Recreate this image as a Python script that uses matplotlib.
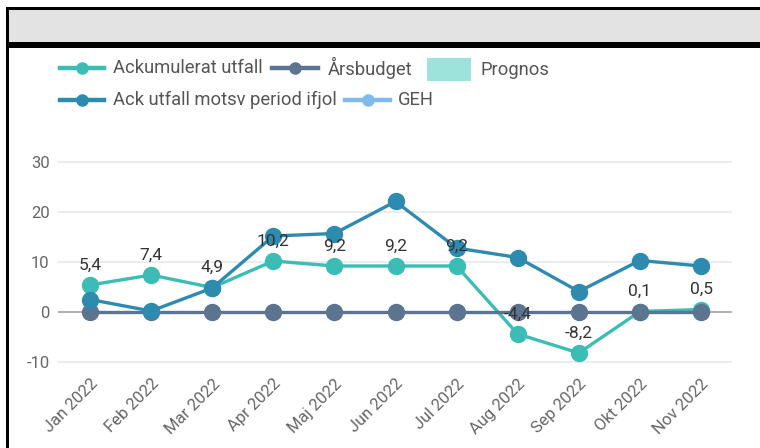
import matplotlib.pyplot as plt
from matplotlib.lines import Line2D
from matplotlib.patches import Rectangle

plt.rcParams['font.family'] = ['Roboto', 'DejaVu Sans']

# data
months = ['Jan 2022', 'Feb 2022', 'Mar 2022', 'Apr 2022', 'Maj 2022', 'Jun 2022',
          'Jul 2022', 'Aug 2022', 'Sep 2022', 'Okt 2022', 'Nov 2022']
ack_utfall = [5.4, 7.4, 4.9, 10.2, 9.2, 9.2, 9.2, -4.4, -8.2, 0.1, 0.5]
ack_ifjol = [2.5, 0.2, 4.8, 15.2, 15.7, 22.1, 12.8, 10.9, 4.1, 10.3, 9.2]
arsbudget = [0, 0, 0, 0, 0, 0, 0, 0, 0, 0, 0]
y_ticks = [-10, 0, 10, 20, 30]

c_ack = '#3bbdb5'
c_budget = '#5b7590'
c_ifjol = '#2e8bb0'
c_geh = '#7fbbea'
c_prognos = '#9de3dc'

W, H = 760, 448
fig = plt.figure(figsize=(W / 100, H / 100), dpi=100)

def fx(px):
    return px / W

def fy(py):
    return 1 - py / H

# frame / header
fig.patches.append(Rectangle((fx(6), fy(48)), 1, 38 / H, transform=fig.transFigure,
                             facecolor='#e3e3e3', edgecolor='none', zorder=0))
fig.patches.append(Rectangle((fx(6), fy(10)), 1, 2.5 / H, transform=fig.transFigure,
                             facecolor='black', edgecolor='none', zorder=1))
fig.patches.append(Rectangle((fx(6), fy(48)), 1, 6 / H, transform=fig.transFigure,
                             facecolor='black', edgecolor='none', zorder=1))
fig.patches.append(Rectangle((fx(6), 0), 2.5 / W, fy(8), transform=fig.transFigure,
                             facecolor='black', edgecolor='none', zorder=1))

# axes
ax = fig.add_axes([fx(58), fy(372), 674 / W, 222 / H])
x = list(range(len(months)))
ax.set_xlim(-0.524, 10.507)
ax.set_ylim(-12.0, 32.4)
ax.set_yticks(y_ticks)
ax.set_yticklabels([str(v) for v in y_ticks])
for v in y_ticks:
    if v == 0:
        ax.axhline(v, color='#a8a8a8', lw=1.3, zorder=1)
    else:
        ax.axhline(v, color='#e8ebef', lw=1.3, zorder=1)
for s in ax.spines.values():
    s.set_visible(False)
ax.tick_params(axis='both', length=0, labelsize=12, labelcolor='#666666')
ax.tick_params(axis='y', pad=6)
ax.tick_params(axis='x', pad=3)
ax.set_xticks(x)
ax.set_xticklabels(months, rotation=45, ha='right', rotation_mode='anchor')

ax.plot(x, ack_utfall, color=c_ack, lw=2.4, marker='o', ms=11.5, zorder=3)
ax.plot(x, arsbudget, color=c_budget, lw=2.4, marker='o', ms=11.5, zorder=4)
ax.plot(x, ack_ifjol, color=c_ifjol, lw=2.4, marker='o', ms=11.5, zorder=5)

for xi, v in zip(x, ack_utfall):
    ax.annotate(str(v).replace('.', ','), (xi, v), xytext=(0, 9), textcoords='offset points',
                ha='center', va='bottom', fontsize=12.5, color='#333333', zorder=6)

# legend drawn by hand
def handle(x0, x1, yy, color):
    fig.lines.append(Line2D([fx(x0), fx(x1)], [fy(yy), fy(yy)], transform=fig.transFigure,
                            color=color, lw=3.2))
    fig.lines.append(Line2D([fx((x0 + x1) / 2)], [fy(yy)], transform=fig.transFigure,
                            color=color, marker='o', ms=8, lw=0))

fs = 13.2
handle(60, 104, 68, c_ack)
fig.text(fx(113), fy(68), 'Ackumulerat utfall', fontsize=fs, color='#555555', va='center')
handle(272, 318, 68, c_budget)
fig.text(fx(328), fy(68), 'Årsbudget', fontsize=fs, color='#555555', va='center')
fig.patches.append(Rectangle((fx(427), fy(81)), 44 / W, 23 / H, transform=fig.transFigure,
                             facecolor=c_prognos, edgecolor='none'))
fig.text(fx(480), fy(70), 'Prognos', fontsize=fs, color='#555555', va='center')
handle(60, 104, 100, c_ifjol)
fig.text(fx(113), fy(100), 'Ack utfall motsv period ifjol', fontsize=fs, color='#555555', va='center')
handle(345, 390, 100, c_geh)
fig.text(fx(398), fy(100), 'GEH', fontsize=fs, color='#555555', va='center')

fig.savefig('out.png', dpi=100)
